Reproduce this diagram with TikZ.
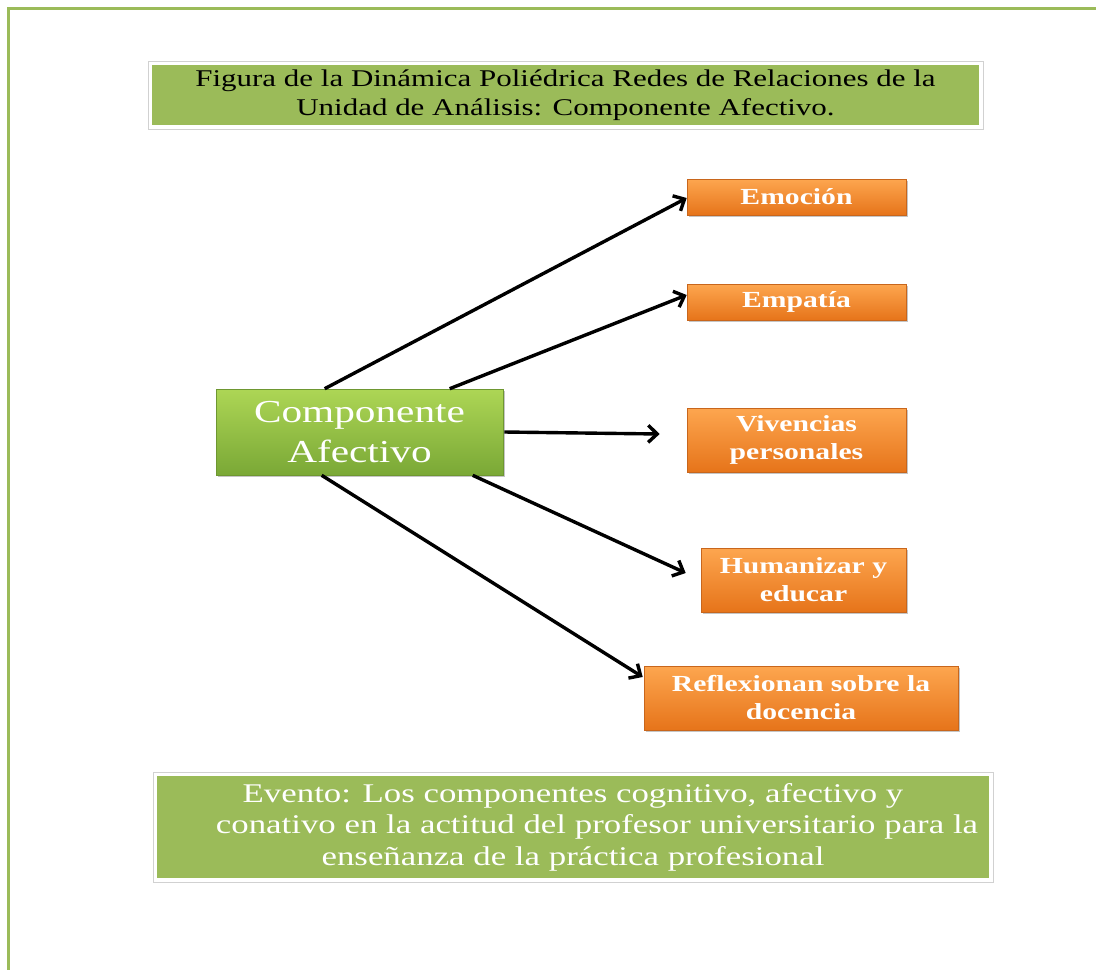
\documentclass[tikz,border=0pt]{standalone}
\usepackage{fontspec}
\setmainfont{Liberation Serif}[FakeStretch=1.29]
\usetikzlibrary{arrows.meta,shadows}
\definecolor{olive}{HTML}{9BBB59}
\definecolor{greentop}{HTML}{ADD655}
\definecolor{greenbot}{HTML}{7AA836}
\definecolor{orangetop}{HTML}{FDA64F}
\definecolor{orangebot}{HTML}{E6741A}
\definecolor{orangeedge}{HTML}{C8661C}
\tikzset{
  banner/.style={fill=olive, draw=white, line width=3.5pt, inner sep=0pt,
    align=center,
    drop shadow={shadow xshift=1.5pt, shadow yshift=-2.5pt, fill=black!45, opacity=.6}},
  rim/.style={draw=black!18, line width=.8pt},
  hub/.style={top color=greentop, bottom color=greenbot, draw=greenbot!90!black,
    line width=.6pt, inner sep=0pt, align=center, text=white,
    font=\fontsize{32}{40}\selectfont,
    drop shadow={shadow xshift=1.5pt, shadow yshift=-2pt, fill=black!45, opacity=.5}},
  leaf/.style={top color=orangetop, bottom color=orangebot, draw=orangeedge,
    line width=.6pt, inner sep=0pt, align=center, text=white,
    font=\fontsize{23}{28}\selectfont\bfseries,
    drop shadow={shadow xshift=1.5pt, shadow yshift=-2pt, fill=black!45, opacity=.5}},
  link/.style={line width=3.4pt, -{Straight Barb[length=9pt,width=17pt,line width=3.4pt]}}
}
\begin{document}
\begin{tikzpicture}[x=1pt,y=-1pt]
\useasboundingbox (0,0) rectangle (1096,970);
\fill[white] (0,0) rectangle (1096,970);
% page frame
\draw[olive, line width=3pt] (8,972) -- (8,8) -- (1098,8);

% title banner
\node[banner, minimum width=831pt, minimum height=64pt,
      font=\fontsize{24}{29}\selectfont] (title) at (565.5,95)
  {\raisebox{-2pt}{Figura de la Dinámica Poliédrica Redes de Relaciones de la}\\
   \raisebox{-2pt}{Unidad de Análisis: Componente Afectivo.}};
\draw[rim] ([shift={(-0.3pt,0.3pt)}]title.north west) rectangle ([shift={(0.3pt,-0.3pt)}]title.south east);

% central component
\node[hub, minimum width=287pt, minimum height=86pt] (c) at (359.5,432)
  {Componente\\Afectivo};

% related categories
\node[leaf, minimum width=219pt, minimum height=36pt] (emo) at (796.5,197) {Emoción};
\node[leaf, minimum width=219pt, minimum height=36pt] (emp) at (796.5,302) {Empatía};
\node[leaf, minimum width=219pt, minimum height=64pt] (viv) at (796.5,440) {Vivencias\\personales};
\node[leaf, minimum width=205pt, minimum height=64pt] (hum) at (803.5,580) {Humanizar y\\educar};
\node[leaf, minimum width=314pt, minimum height=64pt] (ref) at (801,698) {Reflexionan sobre la\\docencia};

% event banner
\node[banner, minimum width=836pt, minimum height=106pt, text=white,
      font=\fontsize{27}{31.5}\selectfont] (ev) at (573,827)
  {Evento: Los componentes cognitivo, afectivo y\\
   \hspace*{48pt}conativo en la actitud del profesor universitario para la\\
   enseñanza de la práctica profesional};
\draw[rim] ([shift={(-0.3pt,0.3pt)}]ev.north west) rectangle ([shift={(0.3pt,-0.3pt)}]ev.south east);

% connectors
\draw[link] ([xshift=109pt]c.north west) -- ([yshift=-1pt]emo.west);
\draw[link] ([xshift=234pt]c.north west) -- ([yshift=7pt]emp.west);
\draw[link] ([xshift=1pt]c.east) -- ([xshift=-27pt,yshift=6pt]viv.west);
\draw[link] ([xshift=257pt]c.south west) -- ([xshift=-15pt,yshift=7pt]hum.west);
\draw[link] ([xshift=106pt]c.south west) -- ([xshift=-1pt,yshift=21pt]ref.west);
\end{tikzpicture}
\end{document}
